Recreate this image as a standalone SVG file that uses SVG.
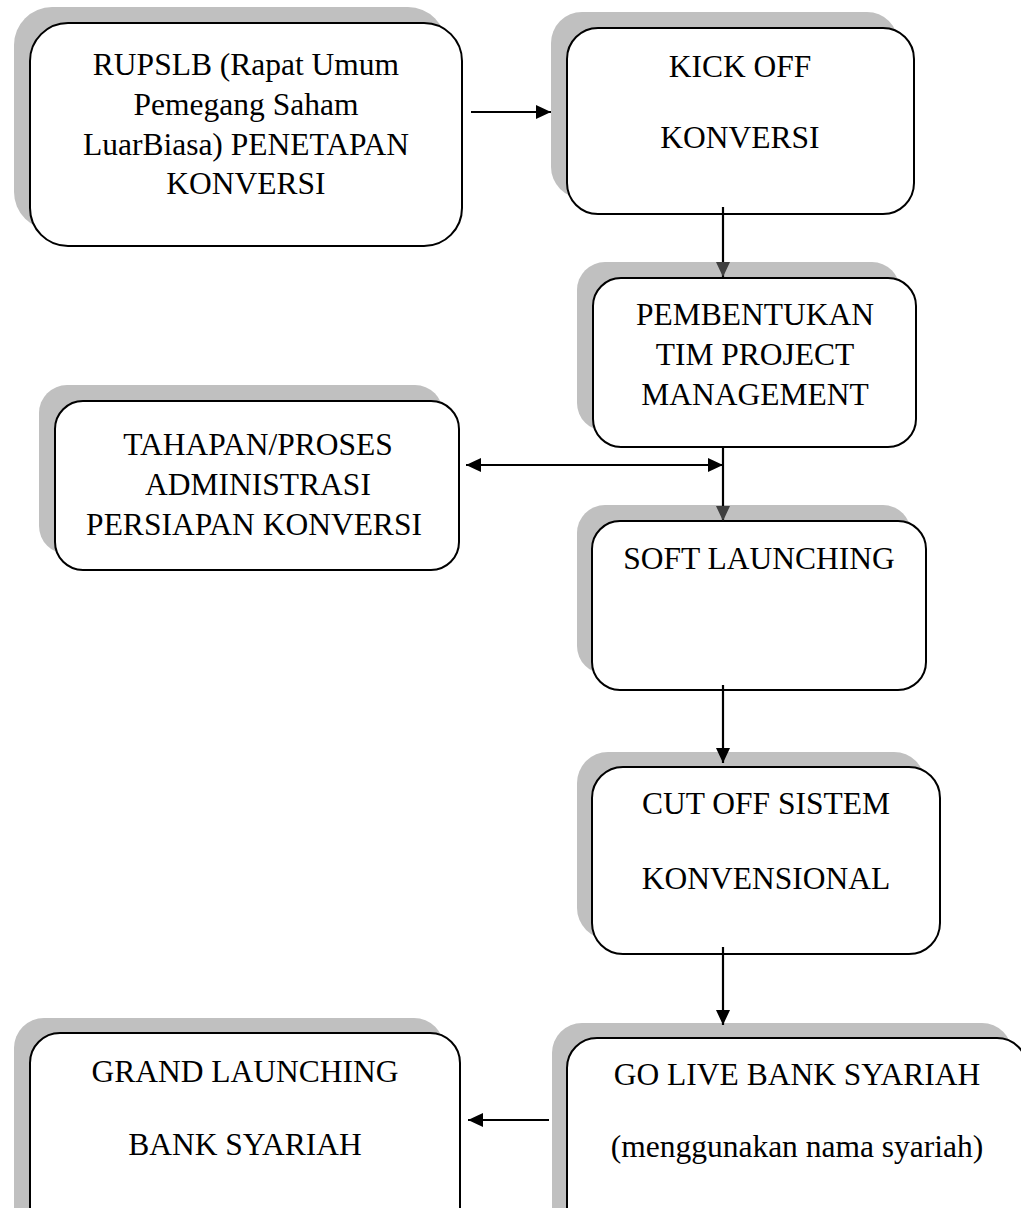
<svg xmlns="http://www.w3.org/2000/svg" width="1021" height="1208" viewBox="0 0 1021 1208">
<style>
.sh{fill:#c0c0c0;stroke:none}
.bx{fill:#fff;stroke:#000;stroke-width:2}
.t{font-family:"Liberation Serif","Times New Roman",serif;font-size:31.5px;fill:#000;text-anchor:middle}
.ln{stroke:#000;stroke-width:2.2;fill:none}
</style>
<defs>
<marker id="ah" viewBox="0 0 15 14" refX="15" refY="7" markerWidth="15" markerHeight="14" markerUnits="userSpaceOnUse" orient="auto-start-reverse"><path d="M0,0L15,7L0,14Z" fill="#000"/></marker>
<marker id="ahg" viewBox="0 0 15 14" refX="15" refY="7" markerWidth="15" markerHeight="14" markerUnits="userSpaceOnUse" orient="auto"><path d="M0,0L15,7L0,14Z" fill="#404040"/></marker>
</defs>
<rect width="1021" height="1208" fill="#fff"/>
<g id="n1">
<rect class="sh" x="14" y="7" width="432" height="223" rx="38"/>
<rect class="bx" x="30" y="23" width="432" height="223" rx="38"/>
<text class="t" x="246" y="75">RUPSLB (Rapat Umum</text>
<text class="t" x="246" y="115">Pemegang Saham</text>
<text class="t" x="246" y="155">LuarBiasa) PENETAPAN</text>
<text class="t" x="246" y="194">KONVERSI</text>
</g>
<g id="n2">
<rect class="sh" x="551" y="12" width="347" height="186" rx="31"/>
<rect class="bx" x="567" y="28" width="347" height="186" rx="31"/>
<text class="t" x="740" y="77">KICK OFF</text>
<text class="t" x="740" y="148">KONVERSI</text>
</g>
<g id="n3">
<rect class="sh" x="577" y="262" width="323" height="169" rx="28"/>
<rect class="bx" x="593" y="278" width="323" height="169" rx="28"/>
<text class="t" x="755" y="325">PEMBENTUKAN</text>
<text class="t" x="755" y="365">TIM PROJECT</text>
<text class="t" x="755" y="405">MANAGEMENT</text>
</g>
<g id="n4">
<rect class="sh" x="39" y="385" width="404" height="169" rx="28"/>
<rect class="bx" x="55" y="401" width="404" height="169" rx="28"/>
<text class="t" x="258" y="455">TAHAPAN/PROSES</text>
<text class="t" x="258" y="495">ADMINISTRASI</text>
<text class="t" x="254" y="535">PERSIAPAN KONVERSI</text>
</g>
<g id="n5">
<rect class="sh" x="577" y="505" width="334" height="169" rx="28"/>
<rect class="bx" x="592" y="521" width="334" height="169" rx="28"/>
<text class="t" x="759" y="569">SOFT LAUNCHING</text>
</g>
<g id="n6">
<rect class="sh" x="577" y="752" width="348" height="187" rx="31"/>
<rect class="bx" x="592" y="767" width="348" height="187" rx="31"/>
<text class="t" x="766" y="814">CUT OFF SISTEM</text>
<text class="t" x="766" y="889">KONVENSIONAL</text>
</g>
<g id="n7">
<rect class="sh" x="552" y="1023" width="460" height="220" rx="30"/>
<rect class="bx" x="567" y="1038" width="460" height="220" rx="30"/>
<text class="t" x="797" y="1085">GO LIVE BANK SYARIAH</text>
<text class="t" x="797" y="1157">(menggunakan nama syariah)</text>
</g>
<g id="n8">
<rect class="sh" x="14" y="1018" width="430" height="220" rx="30"/>
<rect class="bx" x="30" y="1033" width="430" height="220" rx="30"/>
<text class="t" x="245" y="1082">GRAND LAUNCHING</text>
<text class="t" x="245" y="1155">BANK SYARIAH</text>
</g>
<g id="connectors">
<line class="ln" x1="471" y1="112" x2="551" y2="112" marker-end="url(#ah)"/>
<line class="ln" x1="723" y1="207" x2="723" y2="277" marker-end="url(#ahg)"/>
<line class="ln" x1="723" y1="447" x2="723" y2="521" marker-end="url(#ahg)"/>
<line class="ln" x1="466" y1="465" x2="723" y2="465" marker-start="url(#ah)" marker-end="url(#ah)"/>
<line class="ln" x1="723" y1="685" x2="723" y2="763" marker-end="url(#ah)"/>
<line class="ln" x1="723" y1="947" x2="723" y2="1025" marker-end="url(#ah)"/>
<line class="ln" x1="549" y1="1120" x2="468" y2="1120" marker-end="url(#ah)"/>
</g>
</svg>
